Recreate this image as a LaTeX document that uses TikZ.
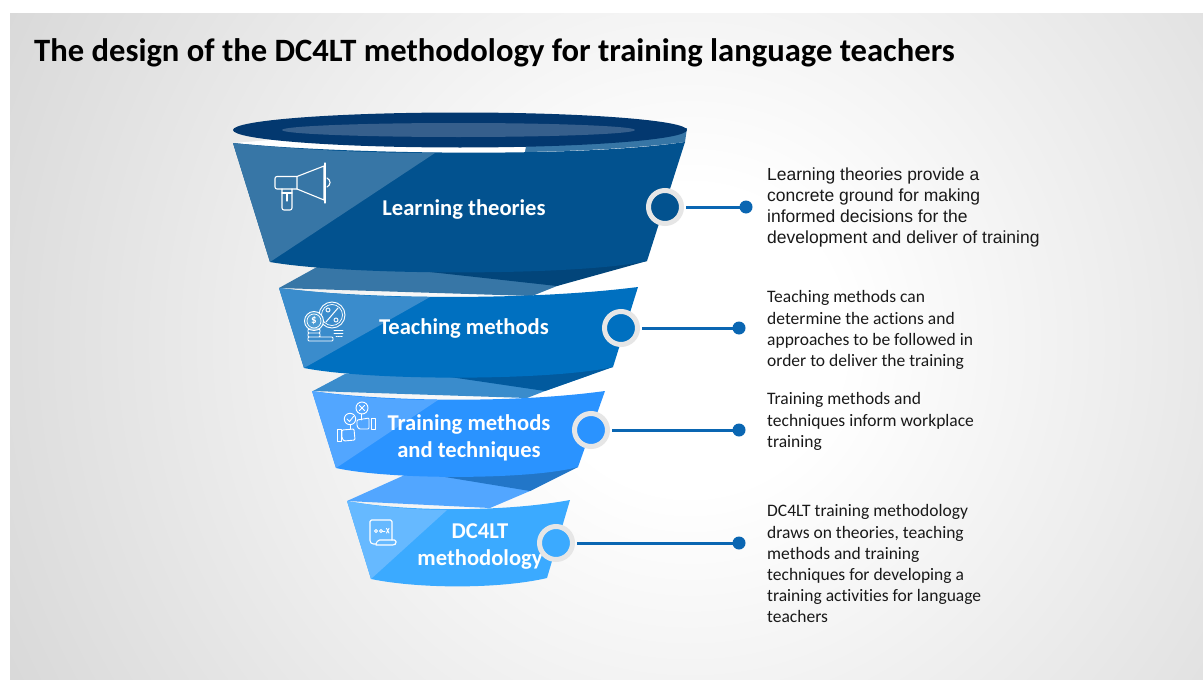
\documentclass[tikz,border=0pt]{standalone}
\usepackage{fontspec}
\setmainfont{Carlito}[Ligatures=CommonOff]
\newfontfamily\arialf{Liberation Sans}
\definecolor{ellout}{HTML}{03386F}
\definecolor{ellin}{HTML}{365F8C}
\definecolor{bodyA}{HTML}{02528F}
\definecolor{liteA}{HTML}{3776A6}
\definecolor{darkA}{HTML}{02457A}
\definecolor{bodyB}{HTML}{0070C0}
\definecolor{liteB}{HTML}{3A8CCC}
\definecolor{darkB}{HTML}{025A9E}
\definecolor{bodyC}{HTML}{2A93FF}
\definecolor{liteC}{HTML}{52A6FF}
\definecolor{darkC}{HTML}{2276C8}
\definecolor{bodyD}{HTML}{3BAAFF}
\definecolor{liteD}{HTML}{66B9FF}
\definecolor{ringgrey}{HTML}{E6E6E6}
\definecolor{wirecol}{HTML}{0A66B2}
\pgfdeclareradialshading{bgshade}{\pgfpoint{0bp}{0bp}}{color(0bp)=(white); color(5bp)=(white); color(25bp)=(black!15); color(50bp)=(black!15)}
\tikzset{
  ringnode/.style={circle,draw=ringgrey,line width=5pt,minimum size=33pt,inner sep=0pt},
  dotnode/.style={circle,fill=wirecol,minimum size=13pt,inner sep=0pt},
  wire/.style={draw=wirecol,line width=3pt,shorten <=2pt,shorten >=-1pt},
  bandlabel/.style={text=white,font=\fontsize{22.6}{27}\selectfont\bfseries,align=center,inner sep=0pt},
  note/.style={text=black!90,anchor=north west,align=left,inner sep=0pt,font=\fontsize{17.5}{21.2}\selectfont},
  notearial/.style={note,font=\arialf\fontsize{17.5}{21}\selectfont},
  icon/.style={draw=white,line width=1.1pt,line join=round,line cap=round},
  icontext/.style={text=white,inner sep=0pt}
}
\begin{document}
\begin{tikzpicture}[x=1pt,y=-1pt]
\useasboundingbox (0,0) rectangle (1203,680);
\fill[white] (0,0) rectangle (1203,680);
\begin{scope}
\clip (10,13) rectangle (1203,680);
\shade[shading=bgshade] (690,340) circle (760pt);
\end{scope}
\node[anchor=west,inner sep=0pt,font=\fontsize{32.6}{38}\selectfont\bfseries] (title) at (34,53) {The design of the DC4LT methodology for training language teachers};
% folds
\fill[liteA] (317,267) -- (279,288) -- (532,296) -- (557,286) -- (600,270) -- (430,260) -- cycle;
\fill[darkA] (430,272) -- (557,286) -- (647,261) -- (560,262) -- cycle;
\fill[liteB] (345,374) -- (313,391) -- (527,398) -- (545,391) -- (590,375) -- (450,365) -- cycle;
\fill[darkB] (450,377) -- (545,391) -- (613,367) -- (540,365) -- cycle;
\fill[liteC] (407,474) -- (347,501) -- (490,508) -- (530,491) -- (560,475) -- (450,465) -- cycle;
\fill[darkC] (445,477) -- (530,491) -- (578,467) -- (520,465) -- cycle;
% white sliver + light strip band 1
\fill[white] (233,143) .. controls (340,154) and (440,156) .. (525,152) -- (527,147) -- (400,130) -- cycle;
\fill[liteA] (525,152) -- (527,140) -- (687,128) -- (685,142) .. controls (640,148) and (580,151) .. (525,152) -- cycle;
% band 1
\fill[bodyA] (233,143) .. controls (340,154) and (580,158) .. (685,142) -- (647,261) .. controls (580,276) and (350,276) .. (270,262) -- cycle;
\fill[liteA] (233,143) .. controls (300,150) and (370,153) .. (435,153) -- (270,262) -- cycle;
% band 2
\fill[bodyB] (279,288) .. controls (350,298) and (520,302) .. (638,287) -- (613,367) .. controls (550,381) and (370,381) .. (304,368) -- cycle;
\fill[liteB] (279,288) .. controls (330,294) and (380,297) .. (430,297) -- (304,368) -- cycle;
% band 3
\fill[bodyC] (312,391) .. controls (380,401) and (510,404) .. (605,391) -- (578,467) .. controls (530,480) and (390,480) .. (336,468) -- cycle;
\fill[liteC] (312,391) .. controls (350,397) and (395,400) .. (438,400) -- (336,468) -- cycle;
% band 4
\fill[bodyD] (347,501) .. controls (400,511) and (500,513) .. (570,500) -- (547,578) .. controls (500,589) and (420,589) .. (371,579) -- cycle;
\fill[liteD] (347,501) .. controls (380,507) and (415,510) .. (447,510) -- (371,579) -- cycle;
% mouth
\fill[ellout] (460,130) ellipse [x radius=227, y radius=17.5];
\fill[ellin] (458.5,130) ellipse [x radius=176.5, y radius=7];
% labels
\node[bandlabel] (l1) at (464,209) {Learning theories};
\node[bandlabel] (l2) at (464,328) {Teaching methods};
\node[bandlabel] (l3) at (469,438) {Training methods\\and techniques};
\node[bandlabel] (l4) at (480,546.5) {DC4LT\\methodology};
% rings, dots, wires
\node[ringnode,fill=bodyA] (r1) at (665,207) {};
\node[ringnode,fill=bodyB] (r2) at (621,328) {};
\node[ringnode,fill=bodyC] (r3) at (591,430) {};
\node[ringnode,fill=bodyD] (r4) at (556,543) {};
\node[dotnode] (d1) at (746,207) {};
\node[dotnode] (d2) at (739,328) {};
\node[dotnode] (d3) at (739,430) {};
\node[dotnode] (d4) at (739,543) {};
\draw[wire] (r1) -- (d1);
\draw[wire] (r2) -- (d2);
\draw[wire] (r3) -- (d3);
\draw[wire] (r4) -- (d4);
% notes
\node[notearial] (n1) at (767,167.5) {Learning theories provide a\\concrete ground for making\\informed decisions for the\\development and deliver of training};
\node[note] (n2) at (767,290.5) {Teaching methods can\\determine the actions and\\approaches to be followed in\\order to deliver the training};
\node[note] (n3) at (767,392.5) {Training methods and\\techniques inform workplace\\training};
\node[note] (n4) at (767,504.5) {DC4LT training methodology\\draws on theories, teaching\\methods and training\\techniques for developing a\\training activities for language\\teachers};
% icon 1 megaphone
\draw[icon] (297,176.5) -- (324,166) -- (324,200) -- (297,189) -- cycle;
\draw[icon] (325,163) -- (325,203);
\draw[icon] (297,176.5) -- (278,176.5) [rounded corners=2pt] -- (275,176.5) -- (275,189) -- (297,189);
\draw[icon,rounded corners=2pt] (282,189) -- (282,210) -- (292,210) -- (292,189);
\draw[icon] (287,193) -- (287,201) (282,193) -- (292,193);
\draw[icon] (327,178) .. controls (331,180) and (331,185) .. (327,187);
% icon 2 coins
\draw[icon,line width=.9pt] (332,315) circle (13);
\draw[icon,line width=.7pt] (332,315) circle (10.5);
\draw[icon,line width=1pt] (326,322) -- (338,308);
\draw[icon,line width=.9pt] (328,310) circle (2) (336,320) circle (2);
\fill[draw=white,line width=.9pt,fill=bodyB!70!white] (314,321) circle (9.5);
\draw[icon,line width=.7pt] (314,321) circle (7);
\node[icontext,font=\fontsize{11}{11}\selectfont\bfseries] (dollar) at (314,321) {\$};
\draw[icon,line width=.9pt,rounded corners=1pt] (308,329) rectangle (320,333) (308,333) rectangle (320,337) (308,337) rectangle (333,341);
\draw[icon,line width=.9pt] (334,330) -- (343,330) (334,333) -- (343,333);
\draw[icon,line width=.8pt,densely dotted] (336,336) -- (343,336);
% icon 3 hands
\draw[icon,line width=.9pt] (362,408) circle (6);
\draw[icon,line width=.9pt] (359.5,405.5) -- (364.5,410.5) (364.5,405.5) -- (359.5,410.5);
\draw[icon,line width=.9pt] (350,419) circle (5.7);
\draw[icon,line width=.9pt] (347,419) -- (349.5,421.5) -- (353.5,416.5);
\draw[icon,line width=.9pt] (361,414) -- (361,420) (350,425) -- (350,429);
\draw[icon,line width=.9pt,rounded corners=1pt] (357,420) -- (369,418) -- (369,429) -- (359,429) -- (357,426) -- cycle;
\draw[icon,line width=.9pt] (371,418) rectangle (375.5,429);
\draw[icon,line width=.9pt,rounded corners=1pt] (342,430) -- (354,429) -- (355,440) -- (344,441) -- (342,438) -- cycle;
\draw[icon,line width=.9pt] (337,429) rectangle (341,441);
% icon 4 scroll
\draw[icon,rounded corners=1.5pt] (376,544) -- (372,544) -- (370,542) -- (370,520) -- (392,520) -- (392,540);
\draw[icon,rounded corners=1.5pt] (376,544) -- (378,540) -- (396,540) -- (396,544) -- (394,545) -- (376,545);
\draw[icon,line width=.8pt] (376,531) circle (1.5) (381,531) circle (1.5);
\draw[icon,line width=.8pt] (382.5,531) -- (385,531);
\draw[icon,line width=.9pt] (386.5,528.5) -- (389,533) (389,528.5) -- (386.5,533);
\end{tikzpicture}
\end{document}
